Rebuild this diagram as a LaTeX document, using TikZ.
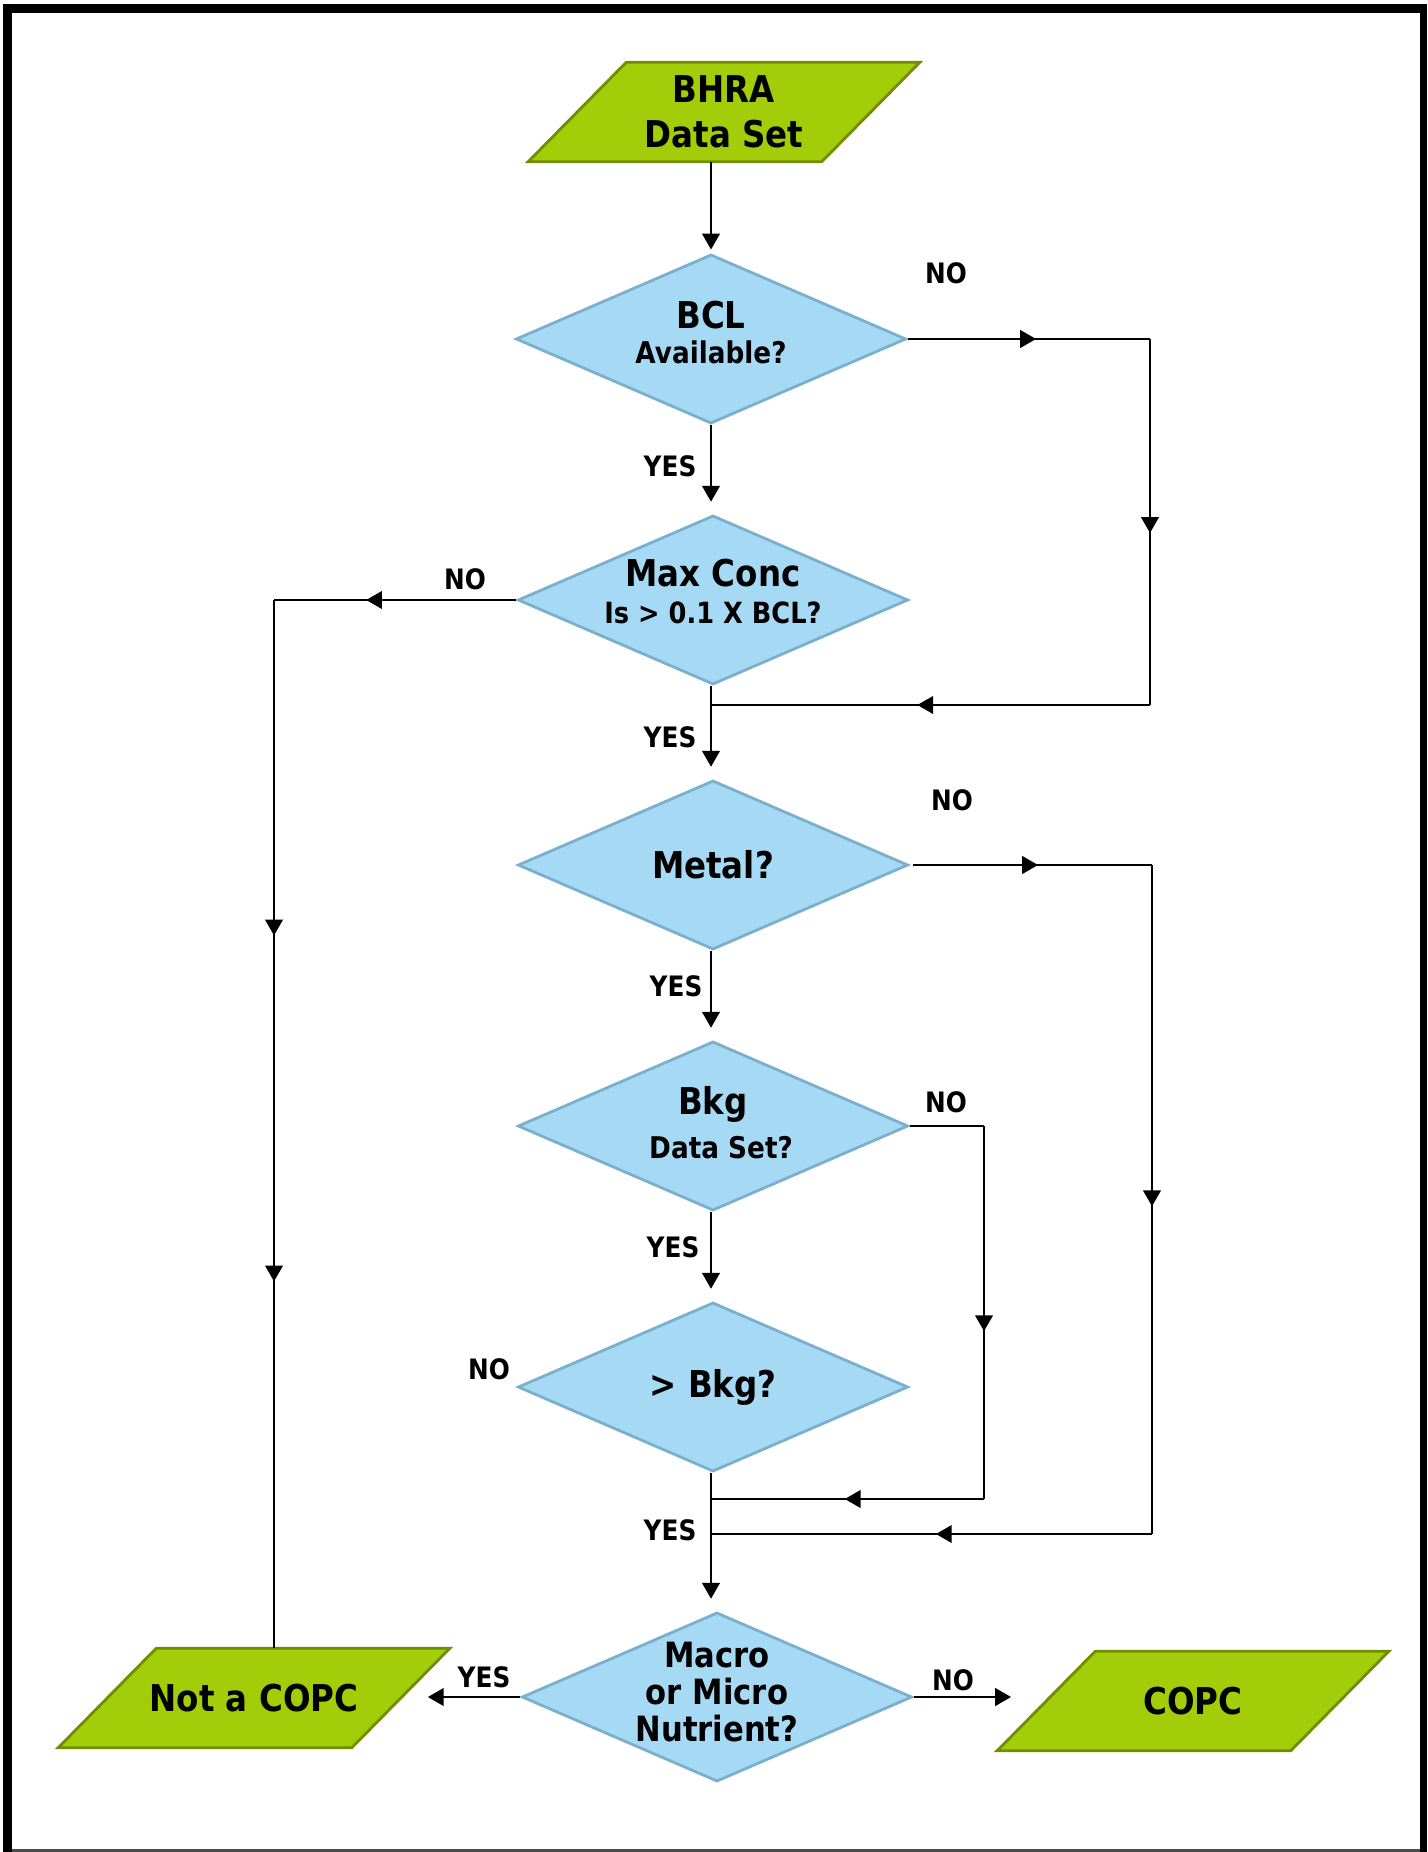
\documentclass[tikz,border=0pt]{standalone}
\usepackage{fontspec}
\usetikzlibrary{shapes.geometric,arrows.meta,decorations.markings,backgrounds}

\newfontfamily\flowfont{DejaVu Sans}[FakeStretch=0.88]
\newcommand{\smallq}{\fontsize{8.5}{10.2}\selectfont}

\definecolor{diablue}{RGB}{166,218,244}
\definecolor{diaedge}{RGB}{122,176,206}
\definecolor{datagreen}{RGB}{162,205,8}
\definecolor{dataedge}{RGB}{112,142,0}

\tikzset{
  decision/.style = {shape = diamond,
                     aspect = 2.3,
                     minimum width = 3.9cm,
                     minimum height = 1.69cm,
                     inner sep = -8pt,
                     fill = diablue,
                     draw = diaedge,
                     line width = 0.8pt,
                     align = center,
                     font = \flowfont\bfseries\fontsize{10.5}{12.6}\selectfont},
  dataset/.style = {shape = rectangle,
                    minimum width = 2.92cm,
                    minimum height = 0.98cm,
                    inner sep = 0pt,
                    align = center,
                    font = \flowfont\bfseries\fontsize{10.5}{12.8}\selectfont},
  dataframe/.style = {fill = datagreen, draw = dataedge, line width = 0.8pt},
  lbl/.style = {inner sep = 0pt, font = \flowfont\bfseries\fontsize{8}{9.6}\selectfont},
  flow/.style = {draw, line width = 0.6pt,
                 -{Triangle[length=4.5pt,width=5pt]}, shorten >= 3.5pt},
  midarr/.style = {draw, line width = 0.6pt, postaction = {decorate},
                   decoration = {markings,
                     mark = at position #1 with {\arrow{Triangle[length=4.5pt,width=5pt]}}}},
  midarr/.default = 0.53,
  twoarr/.style = {draw, line width = 0.6pt, postaction = {decorate},
                   decoration = {markings,
                     mark = at position 0.32 with {\arrow{Triangle[length=4.5pt,width=5pt]}},
                     mark = at position 0.65 with {\arrow{Triangle[length=4.5pt,width=5pt]}}}}
}

\begin{document}
\begin{tikzpicture}[x=0.01cm, y=-0.01cm]
  \useasboundingbox (0,0) rectangle (1427,1852);

  % frame
  \fill (3,4) rectangle (12,1852);
  \fill (3,4) rectangle (1427,13);
  \fill (1420,4) rectangle (1427,1852);
  \fill[black!70] (12,1849) rectangle (1420,1852);

  % data sets
  \node[dataset] (bhra) at (724,112) {BHRA\\Data Set};
  \node[dataset] (notcopc) at (254,1698) {Not a COPC};
  \node[dataset] (copc) at (1193,1701) {COPC};

  % decisions
  \node[decision, text depth = 3.6pt] (bcl) at (711,339) {BCL\\[-2.7pt]{\smallq Available?}};
  \node[decision, text depth = 5pt] (maxc) at (713,600)
    {Max Conc\\[-2pt]{\fontsize{8.3}{10}\selectfont Is > 0.1 X BCL?}};
  \node[decision] (metal) at (713,865) {Metal?};
  \node[decision, text depth = 2.2pt] (bkg) at (713,1126) {Bkg\\{\smallq\hspace{0.16cm}Data Set?}};
  \node[decision] (gtbkg) at (713,1387) {> Bkg?};
  \node[decision, text depth = 3pt, font = \flowfont\bfseries\fontsize{9.9}{10.6}\selectfont]
    (macro) at (717,1697) {Macro\\or Micro\\Nutrient?};

  \begin{scope}[on background layer]
    \foreach \n in {bhra,notcopc,copc}
      \path[dataframe] ([xshift=-0.49cm]\n.south west) -- ([xshift=-0.49cm]\n.south east)
        -- ([xshift=0.49cm]\n.north east) -- ([xshift=0.49cm]\n.north west) -- cycle;
  \end{scope}

  % corners
  \coordinate (r1) at (1150,339);
  \coordinate (r2) at (1150,705);
  \coordinate (j1) at (711,705);
  \coordinate (l1) at (274,600);
  \coordinate (r3) at (1152,865);
  \coordinate (r4) at (1152,1534);
  \coordinate (j3) at (711,1534);
  \coordinate (r5) at (984,1126);
  \coordinate (r6) at (984,1499);
  \coordinate (j2) at (711,1499);

  % main line
  \draw[flow, shorten >= 1pt] (bhra.south -| bcl.north) -- (bcl.north);
  \draw[flow] (bcl.south) -- (bcl.south |- maxc.north);
  \draw[flow] (bcl.south |- maxc.south) -- (bcl.south |- metal.north);
  \draw[flow] (bcl.south |- metal.south) -- (bcl.south |- bkg.north);
  \draw[flow] (bcl.south |- bkg.south) -- (bcl.south |- gtbkg.north);
  \draw[flow] (bcl.south |- gtbkg.south) -- (bcl.south |- macro.north);
  \draw[flow, shorten >= 7.7pt] (macro.west) -- (macro.west -| notcopc.east);
  \draw[flow, shorten >= 10pt] (macro.east) -- (macro.east -| copc.west);

  % no branches
  \path[midarr] (bcl.east) -- (r1);
  \path[midarr] (r1) -- (r2);
  \path[midarr] (r2) -- (j1);
  \path[midarr=0.62] (maxc.west) -- (l1);
  \path[twoarr] (l1) -- (l1 |- notcopc.north);
  \path[midarr, shorten <= 1pt] (metal.east) -- (r3);
  \path[midarr=0.51] (r3) -- (r4);
  \path[midarr=0.49] (r4) -- (j3);
  \draw[line width = 0.6pt] (bkg.east) -- (r5);
  \path[midarr=0.55] (r5) -- (r6);
  \path[midarr=0.51] (r6) -- (j2);

  % labels
  \node[lbl] (no1) at (946,273) {NO};
  \node[lbl] (yes1) at (670,466) {YES};
  \node[lbl] (no2) at (465,579) {NO};
  \node[lbl] (yes2) at (670,737) {YES};
  \node[lbl] (no3) at (952,800) {NO};
  \node[lbl] (yes3) at (676,986) {YES};
  \node[lbl] (no4) at (946,1102) {NO};
  \node[lbl] (yes4) at (673,1247) {YES};
  \node[lbl] (no5) at (489,1369) {NO};
  \node[lbl] (yes5) at (670,1530) {YES};
  \node[lbl] (yes6) at (484,1677) {YES};
  \node[lbl] (no6) at (953,1680) {NO};
\end{tikzpicture}
\end{document}
